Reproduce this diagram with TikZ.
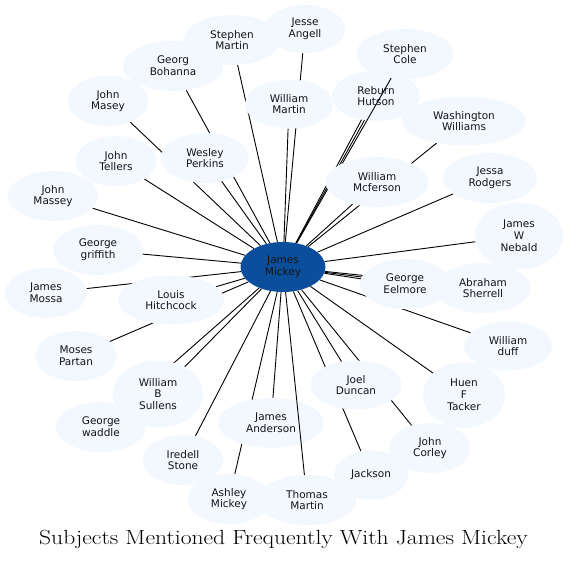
\documentclass[tikz,border=0pt]{standalone}
\usepackage{fontspec}
\newfontfamily\nodefont{DejaVu Sans}
\usetikzlibrary{shapes.geometric,backgrounds}
\definecolor{nodefill}{HTML}{F3F7FE}
\definecolor{hubfill}{HTML}{0B4F9C}
\begin{document}
\begin{tikzpicture}[x=1pt,y=-1pt,
  person/.style={ellipse, fill=nodefill, inner sep=0pt, align=center,
    font=\nodefont\fontsize{10.5}{11.8}\selectfont, text=black!92},
  hub/.style={person, fill=hubfill},
  link/.style={draw=black, line width=0.9pt},
]
\useasboundingbox (0,0) rectangle (569,560);

% nodes
\node[hub, minimum width=85pt, minimum height=50pt] (c) at (283,267) {James\\Mickey};
\node[person, minimum width=80pt, minimum height=48pt] (jangell) at (305,29) {Jesse\\Angell};
\node[person, minimum width=97pt, minimum height=50pt] (smartin) at (232,40) {Stephen\\Martin};
\node[person, minimum width=100pt, minimum height=50pt] (bohanna) at (173,66) {Georg\\Bohanna};
\node[person, minimum width=81pt, minimum height=50pt] (masey) at (108,101) {John\\Masey};
\node[person, minimum width=88pt, minimum height=50pt] (perkins) at (205,158) {Wesley\\Perkins};
\node[person, minimum width=81pt, minimum height=50pt] (tellers) at (116,161) {John\\Tellers};
\node[person, minimum width=90pt, minimum height=50pt] (massey) at (53,196) {John\\Massey};
\node[person, minimum width=90pt, minimum height=50pt] (griffith) at (98,250) {George\\griffith};
\node[person, minimum width=88pt, minimum height=49pt] (wmartin) at (289,104) {William\\Martin};
\node[person, minimum width=97pt, minimum height=50pt] (cole) at (405,54) {Stephen\\Cole};
\node[person, minimum width=88pt, minimum height=50pt] (hutson) at (376,96) {Reburn\\Hutson};
\draw[link] (c) -- (cole);
\node[person, minimum width=124pt, minimum height=49pt] (wwilliams) at (464,121) {Washington\\Williams};
\node[person, minimum width=103pt, minimum height=50pt] (mcferson) at (377,182) {William\\Mcferson};
\node[person, minimum width=94pt, minimum height=50pt] (rodgers) at (490,178) {Jessa\\Rodgers};
\node[person, minimum width=88pt, minimum height=67pt] (nebald) at (519,236) {James\\W\\Nebald};
\node[person, minimum width=95pt, minimum height=50pt] (sherrell) at (483,288) {Abraham\\Sherrell};
\node[person, minimum width=90pt, minimum height=50pt] (eelmore) at (405,284) {George\\Eelmore};
\node[person, minimum width=88pt, minimum height=49pt] (duff) at (508,346) {William\\duff};
\node[person, minimum width=82pt, minimum height=66pt] (tacker) at (464,395) {Huen\\F\\Tacker};
\node[person, minimum width=91pt, minimum height=49pt] (duncan) at (356,385) {Joel\\Duncan};
\node[person, minimum width=81pt, minimum height=50pt] (corley) at (430,448) {John\\Corley};
\node[person, minimum width=74pt, minimum height=49pt] (jackson) at (371,475) {Jackson};
\node[person, minimum width=106pt, minimum height=50pt] (anderson) at (271,423) {James\\Anderson};
\node[person, minimum width=98pt, minimum height=50pt] (tmartin) at (307,500) {Thomas\\Martin};
\draw[link] (c) -- (tmartin);
\node[person, minimum width=83pt, minimum height=50pt] (amickey) at (229,499) {Ashley\\Mickey};
\node[person, minimum width=80pt, minimum height=50pt] (stone) at (183,460) {Iredell\\Stone};
\node[person, minimum width=90pt, minimum height=50pt] (waddle) at (101,427) {George\\waddle};
\node[person, minimum width=90pt, minimum height=67pt] (sullens) at (158,394) {William\\B\\Sullens};
\node[person, minimum width=82pt, minimum height=50pt] (partan) at (76,356) {Moses\\Partan};
\node[person, minimum width=82pt, minimum height=50pt] (mossa) at (46,293) {James\\Mossa};
\node[person, minimum width=106pt, minimum height=49pt] (hitchcock) at (171,300) {Louis\\Hitchcock};

% edges beneath the nodes
\begin{pgfonlayer}{background}
\foreach \n in {jangell,smartin,bohanna,masey,perkins,tellers,massey,griffith,wmartin,
  wwilliams,mcferson,rodgers,nebald,sherrell,duff,tacker,duncan,corley,jackson,
  anderson,amickey,stone,waddle,sullens,partan,mossa,hitchcock}
  {\draw[link] (c) -- (\n);}
\draw[link] (c) -- ([shift={(1.4,0.8)}]hutson.center);
\draw[link] (c) -- ([shift={(-1.4,-0.8)}]hutson.center);
\draw[link] (c) -- ([shift={(-0.2,1.5)}]eelmore.center);
\draw[link] (c) -- ([shift={(0.2,-1.5)}]eelmore.center);
\end{pgfonlayer}

\node[font=\fontsize{20.5}{21}\selectfont, anchor=base] (title) at (283.5,544)
  {\scalebox{1.15}[1]{Subjects Mentioned Frequently With James Mickey}};
\end{tikzpicture}
\end{document}
